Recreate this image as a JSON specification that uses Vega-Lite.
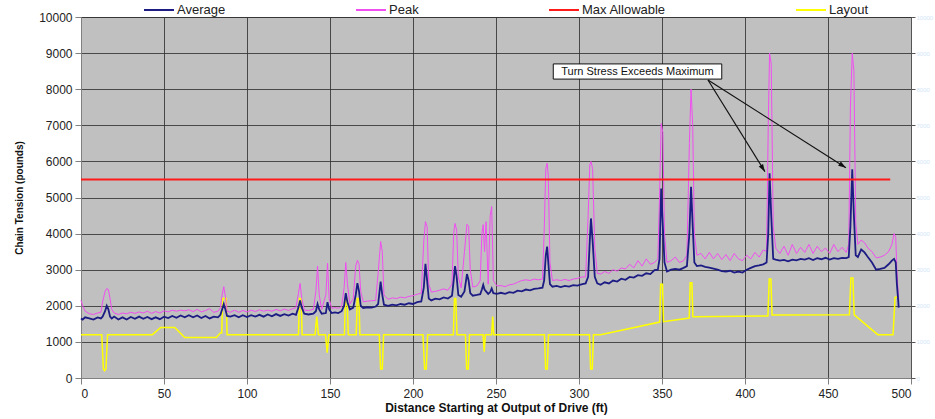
{
  "$schema": "https://vega.github.io/schema/vega-lite/v6.json",
  "width": 830,
  "height": 361,
  "autosize": {"type": "none"},
  "padding": {"left": 81, "top": 17, "right": 24, "bottom": 41},
  "background": "white",
  "config": {
    "font": "Liberation Sans",
    "view": {"fill": "#c0c0c0", "stroke": "#4a4a4a", "strokeWidth": 1},
    "axis": {
      "labelFont": "Liberation Sans",
      "labelFontSize": 12,
      "labelColor": "#222222",
      "titleFont": "Liberation Sans",
      "titleFontWeight": "bold",
      "titleColor": "#111111",
      "gridColor": "#333333",
      "gridOpacity": 0.85,
      "gridWidth": 1,
      "domainColor": "#808080",
      "tickColor": "#808080",
      "tickSize": 6
    },
    "legend": {
      "orient": "none",
      "legendX": 62,
      "legendY": -23,
      "direction": "horizontal",
      "gridAlign": "none",
      "columnPadding": 126,
      "symbolType": "stroke",
      "symbolSize": 900,
      "symbolStrokeWidth": 2,
      "labelFont": "Liberation Sans",
      "labelFontSize": 13,
      "labelColor": "#222222",
      "labelOffset": 2,
      "title": null
    }
  },
  "datasets": {
    "t": [
      {"d": 0, "Average": 1650, "Peak": 2150},
      {"d": 1, "Average": 1620, "Peak": 2000},
      {"d": 2.5, "Average": 1680, "Peak": 1850},
      {"d": 5, "Average": 1650, "Peak": 1780},
      {"d": 7.5, "Average": 1620, "Peak": 1760},
      {"d": 10, "Average": 1680, "Peak": 1800},
      {"d": 12, "Average": 1650, "Peak": 1820},
      {"d": 13, "Average": 1700, "Peak": 2100},
      {"d": 14.5, "Average": 1850, "Peak": 2400},
      {"d": 15.5, "Average": 2000, "Peak": 2480},
      {"d": 16.5, "Average": 1900, "Peak": 2450},
      {"d": 17.5, "Average": 1700, "Peak": 2200},
      {"d": 18.5, "Average": 1650, "Peak": 1900},
      {"d": 20, "Average": 1700, "Peak": 1800},
      {"d": 22.5, "Average": 1620, "Peak": 1760},
      {"d": 25, "Average": 1680, "Peak": 1800},
      {"d": 27.5, "Average": 1620, "Peak": 1780},
      {"d": 30, "Average": 1690, "Peak": 1820},
      {"d": 32.5, "Average": 1640, "Peak": 1790},
      {"d": 35, "Average": 1700, "Peak": 1830},
      {"d": 37.5, "Average": 1640, "Peak": 1800},
      {"d": 40, "Average": 1690, "Peak": 1850},
      {"d": 42.5, "Average": 1630, "Peak": 1790},
      {"d": 45, "Average": 1680, "Peak": 1840},
      {"d": 47.5, "Average": 1630, "Peak": 1800},
      {"d": 50, "Average": 1700, "Peak": 1860},
      {"d": 52.5, "Average": 1660, "Peak": 1830},
      {"d": 55, "Average": 1720, "Peak": 1880},
      {"d": 57.5, "Average": 1670, "Peak": 1850},
      {"d": 60, "Average": 1730, "Peak": 1880},
      {"d": 62.5, "Average": 1680, "Peak": 1860},
      {"d": 65, "Average": 1740, "Peak": 1890},
      {"d": 67.5, "Average": 1680, "Peak": 1840},
      {"d": 70, "Average": 1730, "Peak": 1900},
      {"d": 72.5, "Average": 1660, "Peak": 1830},
      {"d": 75, "Average": 1720, "Peak": 1870},
      {"d": 77.5, "Average": 1650, "Peak": 1920},
      {"d": 80, "Average": 1700, "Peak": 1820},
      {"d": 82.5, "Average": 1680, "Peak": 1850},
      {"d": 84, "Average": 1750, "Peak": 1950},
      {"d": 85, "Average": 1900, "Peak": 2300},
      {"d": 86, "Average": 2050, "Peak": 2530},
      {"d": 87, "Average": 1900, "Peak": 2250},
      {"d": 88, "Average": 1720, "Peak": 1850},
      {"d": 90, "Average": 1700, "Peak": 1820},
      {"d": 92.5, "Average": 1740, "Peak": 1880},
      {"d": 95, "Average": 1680, "Peak": 1820},
      {"d": 97.5, "Average": 1740, "Peak": 1870},
      {"d": 100, "Average": 1690, "Peak": 1830},
      {"d": 102.5, "Average": 1740, "Peak": 1880},
      {"d": 105, "Average": 1700, "Peak": 1840},
      {"d": 107.5, "Average": 1750, "Peak": 1890},
      {"d": 110, "Average": 1700, "Peak": 1850},
      {"d": 112.5, "Average": 1760, "Peak": 1880},
      {"d": 115, "Average": 1710, "Peak": 1850},
      {"d": 117.5, "Average": 1770, "Peak": 1900},
      {"d": 120, "Average": 1720, "Peak": 1860},
      {"d": 122.5, "Average": 1770, "Peak": 1910},
      {"d": 125, "Average": 1730, "Peak": 1870},
      {"d": 127.5, "Average": 1780, "Peak": 1920},
      {"d": 129.5, "Average": 1750, "Peak": 1950},
      {"d": 131, "Average": 1950, "Peak": 2350},
      {"d": 132, "Average": 2150, "Peak": 2620},
      {"d": 133, "Average": 1950, "Peak": 2200},
      {"d": 134.5, "Average": 1780, "Peak": 1880},
      {"d": 137, "Average": 1760, "Peak": 1870},
      {"d": 140, "Average": 1780, "Peak": 1900},
      {"d": 141.5, "Average": 1850, "Peak": 2400},
      {"d": 142.5, "Average": 2050, "Peak": 3100},
      {"d": 143.5, "Average": 1900, "Peak": 2300},
      {"d": 145, "Average": 1780, "Peak": 1900},
      {"d": 147.5, "Average": 1800, "Peak": 2300},
      {"d": 148.5, "Average": 2100, "Peak": 3180},
      {"d": 149.5, "Average": 1900, "Peak": 2200},
      {"d": 151, "Average": 1800, "Peak": 1930},
      {"d": 153, "Average": 1820, "Peak": 1950},
      {"d": 155, "Average": 1800, "Peak": 1930},
      {"d": 157, "Average": 1850, "Peak": 1980},
      {"d": 158.5, "Average": 2000, "Peak": 2500},
      {"d": 159.5, "Average": 2350, "Peak": 3200},
      {"d": 160.5, "Average": 2100, "Peak": 2600},
      {"d": 162, "Average": 1900, "Peak": 2050},
      {"d": 164, "Average": 1950, "Peak": 2200},
      {"d": 165.5, "Average": 2300, "Peak": 3100},
      {"d": 166.5, "Average": 2630, "Peak": 3260},
      {"d": 167.5, "Average": 2400, "Peak": 3150},
      {"d": 168.5, "Average": 2000, "Peak": 2400},
      {"d": 170, "Average": 1940, "Peak": 2110},
      {"d": 172.5, "Average": 1960, "Peak": 2130},
      {"d": 175, "Average": 1950, "Peak": 2140},
      {"d": 177.5, "Average": 1980, "Peak": 2150},
      {"d": 179, "Average": 2050, "Peak": 2900},
      {"d": 180.5, "Average": 2670, "Peak": 3780},
      {"d": 181.5, "Average": 2300, "Peak": 3500},
      {"d": 182.5, "Average": 2030, "Peak": 2300},
      {"d": 185, "Average": 2000, "Peak": 2180},
      {"d": 187.5, "Average": 2030, "Peak": 2220},
      {"d": 190, "Average": 2010, "Peak": 2200},
      {"d": 192.5, "Average": 2050, "Peak": 2240},
      {"d": 195, "Average": 2030, "Peak": 2220},
      {"d": 197.5, "Average": 2070, "Peak": 2260},
      {"d": 200, "Average": 2050, "Peak": 2280},
      {"d": 202.5, "Average": 2100, "Peak": 2320},
      {"d": 205, "Average": 2120, "Peak": 2350},
      {"d": 206.5, "Average": 2500, "Peak": 3800},
      {"d": 207.5, "Average": 3160, "Peak": 4330},
      {"d": 208.5, "Average": 2700, "Peak": 4200},
      {"d": 209.5, "Average": 2200, "Peak": 2600},
      {"d": 211, "Average": 2150, "Peak": 2380},
      {"d": 213.5, "Average": 2200, "Peak": 2400},
      {"d": 216, "Average": 2180, "Peak": 2430},
      {"d": 218.5, "Average": 2230, "Peak": 2470},
      {"d": 221, "Average": 2200, "Peak": 2430},
      {"d": 223.5, "Average": 2280, "Peak": 2600},
      {"d": 224.5, "Average": 2700, "Peak": 4000},
      {"d": 225.3, "Average": 3100, "Peak": 4280},
      {"d": 226.3, "Average": 2800, "Peak": 4100},
      {"d": 227.3, "Average": 2300, "Peak": 2800},
      {"d": 229, "Average": 2250, "Peak": 2500},
      {"d": 231, "Average": 2400, "Peak": 3500},
      {"d": 232.5, "Average": 2880, "Peak": 4260},
      {"d": 233.5, "Average": 2700, "Peak": 4200},
      {"d": 234.5, "Average": 2350, "Peak": 3000},
      {"d": 236, "Average": 2280, "Peak": 2520},
      {"d": 238.5, "Average": 2300, "Peak": 2550},
      {"d": 240.5, "Average": 2320, "Peak": 2700},
      {"d": 241.5, "Average": 2450, "Peak": 4000},
      {"d": 242.3, "Average": 2580, "Peak": 4250},
      {"d": 243.1, "Average": 2450, "Peak": 3500},
      {"d": 244, "Average": 2400, "Peak": 4330},
      {"d": 245.3, "Average": 2330, "Peak": 2600},
      {"d": 246.5, "Average": 2380, "Peak": 4500},
      {"d": 247.4, "Average": 2480, "Peak": 4750},
      {"d": 248.4, "Average": 2350, "Peak": 2700},
      {"d": 250.5, "Average": 2330, "Peak": 2550},
      {"d": 253, "Average": 2360, "Peak": 2560},
      {"d": 255.5, "Average": 2330, "Peak": 2530},
      {"d": 258, "Average": 2380, "Peak": 2580},
      {"d": 260.5, "Average": 2360, "Peak": 2600},
      {"d": 263, "Average": 2420, "Peak": 2650},
      {"d": 265.5, "Average": 2400, "Peak": 2700},
      {"d": 268, "Average": 2450, "Peak": 2720},
      {"d": 270.5, "Average": 2430, "Peak": 2700},
      {"d": 273, "Average": 2470, "Peak": 2740},
      {"d": 275.5, "Average": 2480, "Peak": 2720},
      {"d": 278, "Average": 2500, "Peak": 2740},
      {"d": 279, "Average": 2700, "Peak": 4000},
      {"d": 280, "Average": 3400, "Peak": 5800},
      {"d": 280.8, "Average": 3640, "Peak": 5950},
      {"d": 281.5, "Average": 3200, "Peak": 5600},
      {"d": 282.5, "Average": 2600, "Peak": 3200},
      {"d": 284, "Average": 2530, "Peak": 2700},
      {"d": 286.5, "Average": 2550, "Peak": 2720},
      {"d": 289, "Average": 2520, "Peak": 2700},
      {"d": 291.5, "Average": 2550, "Peak": 2730},
      {"d": 294, "Average": 2530, "Peak": 2700},
      {"d": 296.5, "Average": 2570, "Peak": 2740},
      {"d": 299, "Average": 2560, "Peak": 2760},
      {"d": 302, "Average": 2600, "Peak": 2800},
      {"d": 304, "Average": 2620, "Peak": 2800},
      {"d": 305.5, "Average": 2800, "Peak": 4500},
      {"d": 306.5, "Average": 3800, "Peak": 5900},
      {"d": 307.2, "Average": 4420, "Peak": 6000},
      {"d": 308.2, "Average": 3800, "Peak": 5800},
      {"d": 309.5, "Average": 2800, "Peak": 3600},
      {"d": 311, "Average": 2620, "Peak": 2900},
      {"d": 313, "Average": 2580, "Peak": 2880},
      {"d": 315.5, "Average": 2650, "Peak": 2950},
      {"d": 318, "Average": 2620, "Peak": 2900},
      {"d": 320.5, "Average": 2700, "Peak": 3000},
      {"d": 323, "Average": 2670, "Peak": 2960},
      {"d": 325.5, "Average": 2750, "Peak": 3050},
      {"d": 328, "Average": 2720, "Peak": 3020},
      {"d": 330.5, "Average": 2800, "Peak": 3150},
      {"d": 333, "Average": 2780, "Peak": 3050},
      {"d": 335.5, "Average": 2850, "Peak": 3250},
      {"d": 338, "Average": 2830, "Peak": 3100},
      {"d": 340.5, "Average": 2900, "Peak": 3300},
      {"d": 343, "Average": 2880, "Peak": 3150},
      {"d": 345.5, "Average": 2990, "Peak": 3200},
      {"d": 347.5, "Average": 3000, "Peak": 3300},
      {"d": 348.5, "Average": 3300, "Peak": 5000},
      {"d": 349.5, "Average": 5250, "Peak": 7050},
      {"d": 350.5, "Average": 4200, "Peak": 6800},
      {"d": 351.5, "Average": 3200, "Peak": 4000},
      {"d": 353, "Average": 2950, "Peak": 3200},
      {"d": 355.5, "Average": 3000, "Peak": 3250},
      {"d": 358, "Average": 3020, "Peak": 3350},
      {"d": 360.5, "Average": 3000, "Peak": 3200},
      {"d": 363, "Average": 3050, "Peak": 3250},
      {"d": 365, "Average": 3100, "Peak": 3400},
      {"d": 366.5, "Average": 4000, "Peak": 6500},
      {"d": 367.5, "Average": 5300, "Peak": 8000},
      {"d": 368.5, "Average": 4200, "Peak": 7000},
      {"d": 369.5, "Average": 3200, "Peak": 4000},
      {"d": 371, "Average": 3100, "Peak": 3400},
      {"d": 373.5, "Average": 3120, "Peak": 3450},
      {"d": 376, "Average": 3080, "Peak": 3300},
      {"d": 378.5, "Average": 3060, "Peak": 3480},
      {"d": 381, "Average": 3030, "Peak": 3300},
      {"d": 383.5, "Average": 3000, "Peak": 3450},
      {"d": 386, "Average": 2960, "Peak": 3280},
      {"d": 388.5, "Average": 2950, "Peak": 3420},
      {"d": 391, "Average": 2970, "Peak": 3250},
      {"d": 393.5, "Average": 2920, "Peak": 3450},
      {"d": 396, "Average": 2950, "Peak": 3300},
      {"d": 398.5, "Average": 2920, "Peak": 3250},
      {"d": 401, "Average": 3000, "Peak": 3400},
      {"d": 403.5, "Average": 3050, "Peak": 3300},
      {"d": 406, "Average": 3100, "Peak": 3480},
      {"d": 408.5, "Average": 3120, "Peak": 3350},
      {"d": 411, "Average": 3150, "Peak": 3550},
      {"d": 413, "Average": 3200, "Peak": 3500},
      {"d": 414, "Average": 4000, "Peak": 7000},
      {"d": 414.8, "Average": 5670, "Peak": 9000},
      {"d": 415.8, "Average": 4500, "Peak": 8700},
      {"d": 417, "Average": 3300, "Peak": 4200},
      {"d": 418.5, "Average": 3280, "Peak": 3600},
      {"d": 421, "Average": 3250, "Peak": 3450},
      {"d": 423.5, "Average": 3270, "Peak": 3650},
      {"d": 426, "Average": 3230, "Peak": 3400},
      {"d": 428.5, "Average": 3280, "Peak": 3700},
      {"d": 431, "Average": 3260, "Peak": 3450},
      {"d": 433.5, "Average": 3300, "Peak": 3620},
      {"d": 436, "Average": 3280, "Peak": 3480},
      {"d": 438.5, "Average": 3320, "Peak": 3700},
      {"d": 441, "Average": 3270, "Peak": 3450},
      {"d": 443.5, "Average": 3320, "Peak": 3650},
      {"d": 446, "Average": 3290, "Peak": 3500},
      {"d": 448.5, "Average": 3330, "Peak": 3600},
      {"d": 451, "Average": 3280, "Peak": 3450},
      {"d": 453.5, "Average": 3320, "Peak": 3700},
      {"d": 456, "Average": 3300, "Peak": 3500},
      {"d": 458.5, "Average": 3330, "Peak": 3620},
      {"d": 461, "Average": 3320, "Peak": 3480},
      {"d": 462.5, "Average": 3350, "Peak": 3700},
      {"d": 463.5, "Average": 4200, "Peak": 7500},
      {"d": 464.6, "Average": 5780, "Peak": 9000},
      {"d": 465.6, "Average": 4500, "Peak": 8500},
      {"d": 466.7, "Average": 3400, "Peak": 4300},
      {"d": 468, "Average": 3350, "Peak": 3700},
      {"d": 470, "Average": 3560, "Peak": 3820},
      {"d": 472, "Average": 3480, "Peak": 3750},
      {"d": 474, "Average": 3350, "Peak": 3600},
      {"d": 476.5, "Average": 3200, "Peak": 3500},
      {"d": 479, "Average": 3000, "Peak": 3330},
      {"d": 481.5, "Average": 3020, "Peak": 3350},
      {"d": 484, "Average": 3050, "Peak": 3400},
      {"d": 486.5, "Average": 3150, "Peak": 3500},
      {"d": 488.5, "Average": 3250, "Peak": 3700},
      {"d": 489.8, "Average": 3300, "Peak": 4000},
      {"d": 490.8, "Average": 3200, "Peak": 3900},
      {"d": 491.5, "Average": 2600, "Peak": 3000},
      {"d": 492.2, "Average": 2200, "Peak": 2400},
      {"d": 492.6, "Average": 1950, "Peak": 2150}
    ],
    "layout": [
      {"d": 0, "Layout": 1200}, {"d": 12.5, "Layout": 1200}, {"d": 13.5, "Layout": 250}, {"d": 14.2, "Layout": 200}, {"d": 15, "Layout": 250}, {"d": 16, "Layout": 1200},
      {"d": 43, "Layout": 1200}, {"d": 48, "Layout": 1400}, {"d": 56.5, "Layout": 1400}, {"d": 62.5, "Layout": 1120}, {"d": 81.5, "Layout": 1120},
      {"d": 84, "Layout": 1250}, {"d": 84.8, "Layout": 1250}, {"d": 85.3, "Layout": 2200}, {"d": 87.5, "Layout": 2200}, {"d": 88, "Layout": 1200},
      {"d": 131, "Layout": 1200}, {"d": 131.6, "Layout": 2200}, {"d": 132.6, "Layout": 2200}, {"d": 133.2, "Layout": 1200},
      {"d": 141, "Layout": 1200}, {"d": 142, "Layout": 1700}, {"d": 143, "Layout": 1200},
      {"d": 147.3, "Layout": 1200}, {"d": 148.3, "Layout": 700}, {"d": 149.3, "Layout": 1200},
      {"d": 158.7, "Layout": 1200}, {"d": 159.3, "Layout": 2200}, {"d": 160.3, "Layout": 2200}, {"d": 161, "Layout": 1200},
      {"d": 165.8, "Layout": 1200}, {"d": 166.4, "Layout": 2200}, {"d": 167.4, "Layout": 2200}, {"d": 168, "Layout": 1200},
      {"d": 179.7, "Layout": 1200}, {"d": 180.5, "Layout": 250}, {"d": 181.5, "Layout": 250}, {"d": 182.3, "Layout": 1200},
      {"d": 206, "Layout": 1200}, {"d": 207, "Layout": 250}, {"d": 208, "Layout": 250}, {"d": 208.8, "Layout": 1200},
      {"d": 224.3, "Layout": 1200}, {"d": 225, "Layout": 2200}, {"d": 225.8, "Layout": 2200}, {"d": 226.5, "Layout": 1200},
      {"d": 231.6, "Layout": 1200}, {"d": 232.3, "Layout": 250}, {"d": 233.3, "Layout": 250}, {"d": 234, "Layout": 1200},
      {"d": 242.2, "Layout": 1200}, {"d": 242.9, "Layout": 730}, {"d": 243.6, "Layout": 1200},
      {"d": 247.4, "Layout": 1200}, {"d": 248, "Layout": 1700}, {"d": 248.7, "Layout": 1200},
      {"d": 279.2, "Layout": 1200}, {"d": 279.9, "Layout": 250}, {"d": 280.9, "Layout": 250}, {"d": 281.6, "Layout": 1200},
      {"d": 306.3, "Layout": 1200}, {"d": 307, "Layout": 250}, {"d": 308, "Layout": 250}, {"d": 308.7, "Layout": 1200},
      {"d": 313, "Layout": 1200}, {"d": 348.6, "Layout": 1550}, {"d": 349.2, "Layout": 2600}, {"d": 350.3, "Layout": 2600}, {"d": 350.9, "Layout": 1560},
      {"d": 366.4, "Layout": 1660}, {"d": 367, "Layout": 2640}, {"d": 368, "Layout": 2640}, {"d": 368.6, "Layout": 1700},
      {"d": 413.8, "Layout": 1720}, {"d": 414.6, "Layout": 2740}, {"d": 415.6, "Layout": 2740}, {"d": 416.3, "Layout": 1745},
      {"d": 462.9, "Layout": 1750}, {"d": 463.8, "Layout": 2770}, {"d": 465, "Layout": 2770}, {"d": 465.8, "Layout": 1750},
      {"d": 480, "Layout": 1200}, {"d": 489.2, "Layout": 1200}, {"d": 490.4, "Layout": 2240}, {"d": 492.2, "Layout": 2240}
    ],
    "limit": [
      {"d": 0, "Max Allowable": 5500},
      {"d": 487.5, "Max Allowable": 5500}
    ],
    "note": [
      {"x1": 284.5, "x2": 386, "y1": 8280, "y2": 8700, "xc": 335.2, "yc": 8490, "label": "Turn Stress Exceeds Maximum"}
    ],
    "arrows": [
      {"x1": 377.7, "y1": 8255, "x2": 412, "y2": 5715},
      {"x1": 377.7, "y1": 8255, "x2": 460.8, "y2": 5825}
    ]
  },
  "layer": [
    {
      "data": {"name": "layout"},
      "transform": [{"fold": ["Layout"], "as": ["s", "v"]}],
      "mark": {"type": "line", "strokeWidth": 1.5},
      "encoding": {
        "x": {"field": "d", "type": "quantitative", "scale": {"domain": [0, 500], "nice": false},
          "axis": {"values": [0, 50, 100, 150, 200, 250, 300, 350, 400, 450, 500], "grid": true, "title": "Distance Starting at Output of Drive (ft)", "titleFontSize": 12, "titlePadding": 3, "labelPadding": 4}},
        "y": {"field": "v", "type": "quantitative", "scale": {"domain": [0, 10000], "nice": false},
          "axis": {"values": [0, 1000, 2000, 3000, 4000, 5000, 6000, 7000, 8000, 9000, 10000], "format": "d", "grid": true, "title": "Chain Tension (pounds)", "titleFontSize": 10, "titlePadding": 14, "labelPadding": 3}},
        "color": {"field": "s", "type": "nominal",
          "scale": {"domain": ["Average", "Peak", "Max Allowable", "Layout"], "range": ["#1c1c84", "#f04ef0", "#ff1a1a", "#ffff00"]},
          "legend": {}},
        "order": {"field": "d", "type": "quantitative"}
      }
    },
    {
      "data": {"name": "t"},
      "transform": [{"fold": ["Peak"], "as": ["s", "v"]}],
      "mark": {"type": "line", "strokeWidth": 1},
      "encoding": {
        "x": {"field": "d", "type": "quantitative"},
        "y": {"field": "v", "type": "quantitative", "axis": null},
        "color": {"field": "s", "type": "nominal", "scale": {"domain": ["Average", "Peak", "Max Allowable", "Layout"]}},
        "order": {"field": "d", "type": "quantitative"}
      }
    },
    {
      "data": {"name": "t"},
      "transform": [{"fold": ["Average"], "as": ["s", "v"]}],
      "mark": {"type": "line", "strokeWidth": 1.8},
      "encoding": {
        "x": {"field": "d", "type": "quantitative"},
        "y": {"field": "v", "type": "quantitative", "axis": null},
        "color": {"field": "s", "type": "nominal", "scale": {"domain": ["Average", "Peak", "Max Allowable", "Layout"]}},
        "order": {"field": "d", "type": "quantitative"}
      }
    },
    {
      "data": {"name": "limit"},
      "transform": [{"fold": ["Max Allowable"], "as": ["s", "v"]}],
      "mark": {"type": "line", "strokeWidth": 2},
      "encoding": {
        "x": {"field": "d", "type": "quantitative"},
        "y": {"field": "v", "type": "quantitative",
          "axis": {"orient": "right", "values": [0, 1000, 2000, 3000, 4000, 5000, 6000, 7000, 8000, 9000, 10000], "format": "d", "grid": false, "title": null, "labelColor": "#d4e6f7", "labelFontSize": 6, "tickSize": 4, "domainColor": "#555555", "tickColor": "#555555", "labelPadding": 1}},
        "color": {"field": "s", "type": "nominal", "scale": {"domain": ["Average", "Peak", "Max Allowable", "Layout"]}}
      }
    },
    {
      "data": {"name": "arrows"},
      "mark": {"type": "rule", "color": "#111111", "strokeWidth": 1.2},
      "encoding": {
        "x": {"field": "x1", "type": "quantitative"},
        "y": {"field": "y1", "type": "quantitative", "axis": null},
        "x2": {"field": "x2"},
        "y2": {"field": "y2"}
      }
    },
    {
      "data": {"values": [{"x": 412, "y": 5715}]},
      "mark": {"type": "point", "shape": "M0,0L-0.4,1.2L0.4,1.2Z", "filled": true, "color": "#111111", "size": 160, "angle": 148, "opacity": 1},
      "encoding": {
        "x": {"field": "x", "type": "quantitative"},
        "y": {"field": "y", "type": "quantitative", "axis": null}
      }
    },
    {
      "data": {"values": [{"x": 460.8, "y": 5825}]},
      "mark": {"type": "point", "shape": "M0,0L-0.4,1.2L0.4,1.2Z", "filled": true, "color": "#111111", "size": 160, "angle": 122, "opacity": 1},
      "encoding": {
        "x": {"field": "x", "type": "quantitative"},
        "y": {"field": "y", "type": "quantitative", "axis": null}
      }
    },
    {
      "data": {"name": "note"},
      "mark": {"type": "rect", "fill": "white", "stroke": "#111111", "strokeWidth": 1},
      "encoding": {
        "x": {"field": "x1", "type": "quantitative"},
        "x2": {"field": "x2"},
        "y": {"field": "y1", "type": "quantitative", "axis": null},
        "y2": {"field": "y2"}
      }
    },
    {
      "data": {"name": "note"},
      "mark": {"type": "text", "font": "Liberation Sans", "fontSize": 11, "color": "#111111", "align": "center", "baseline": "middle"},
      "encoding": {
        "x": {"field": "xc", "type": "quantitative"},
        "y": {"field": "yc", "type": "quantitative", "axis": null},
        "text": {"field": "label"}
      }
    }
  ],
  "resolve": {"axis": {"y": "independent"}}
}
